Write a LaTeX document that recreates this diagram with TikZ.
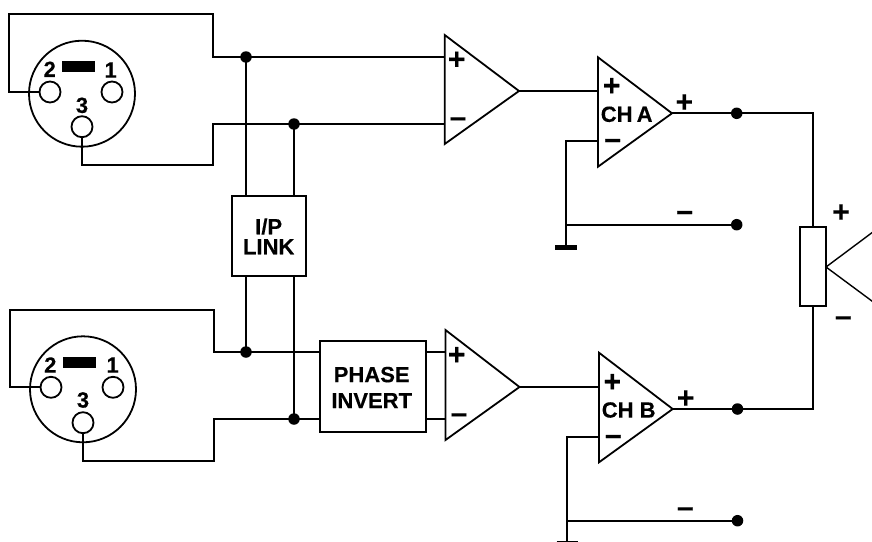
\documentclass[tikz,border=0pt]{standalone}
\usepackage{fontspec}
\setmainfont{Liberation Sans}[BoldFeatures={FakeBold=0.3}]
\tikzset{
  wire/.style={line width=1.8pt,line cap=butt,line join=miter},
  conn/.style={circle,draw,line width=1.8pt,minimum size=106pt,inner sep=0pt},
  pin/.style={circle,draw,fill=white,line width=1.8pt,minimum size=21pt,inner sep=0pt},
  dotj/.style={circle,fill=black,minimum size=11.5pt,inner sep=0pt},
  blockbox/.style={rectangle,draw,line width=1.8pt,inner sep=0pt},
  lab/.style={inner sep=0pt,font=\fontsize{22}{22}\selectfont\bfseries},
  plussign/.style={inner sep=0pt,yshift=-1.5pt,font=\fontsize{30}{30}\selectfont\bfseries},
  minussign/.style={inner sep=0pt,yshift=-3.5pt,font=\fontsize{30}{30}\selectfont\bfseries},
  amp/.style={line width=1.8pt,line join=miter},
}
\begin{document}
\begin{tikzpicture}[x=1pt,y=-1pt]
\useasboundingbox (0,0) rectangle (872,541);
\clip (0,0) rectangle (872,541);
% connectors
\node[conn] (c1) at (82,93.7) {};
\node[pin] (p12) at (50,92) {};
\node[pin] (p11) at (112,92) {};
\node[pin] (p13) at (82,126.7) {};
\node[fill=black,minimum width=32.7pt,minimum height=10.7pt,inner sep=0pt] (b1) at (78.7,66.3) {};
\node[lab] (n12) at (49.7,69.3) {2};
\node[lab] (n11) at (110.7,70) {1};
\node[lab] (n13) at (82,105.3) {3};
\node[conn] (c2) at (83,389.3) {};
\node[pin] (p22) at (51,387.3) {};
\node[pin] (p21) at (113,387.3) {};
\node[pin] (p23) at (83,422.7) {};
\node[fill=black,minimum width=32.7pt,minimum height=10.7pt,inner sep=0pt] (b2) at (79.5,362.5) {};
\node[lab] (n22) at (50.3,365) {2};
\node[lab] (n21) at (112.7,365) {1};
\node[lab] (n23) at (83,400) {3};
% blocks
\node[blockbox,minimum width=74pt,minimum height=80pt] (link) at (269,236) {};
\node[inner sep=0pt,align=center,font=\fontsize{22}{20}\selectfont\bfseries] (linkt) at (268.7,236.3) {I/P\\LINK};
\node[blockbox,minimum width=106pt,minimum height=91pt] (inv) at (373,386.5) {};
\node[inner sep=0pt,align=center,font=\fontsize{22}{26}\selectfont\bfseries] (invt) at (371.7,387.5) {PHASE\\INVERT};
\node[blockbox,minimum width=26pt,minimum height=79pt] (res) at (813,266.5) {};
% junctions and ends
\node[dotj] (d1) at (246,57) {};
\node[dotj] (d2) at (294,124) {};
\node[dotj] (d3) at (246,352) {};
\node[dotj] (d4) at (294,419) {};
\node[dotj] (d5) at (736.7,113.3) {};
\node[dotj] (d6) at (736.7,224.7) {};
\node[dotj] (d7) at (737.5,409) {};
\node[dotj] (d8) at (737.5,520.7) {};
% amplifiers
\coordinate (a1t) at (444.7,35); \coordinate (a1b) at (444.7,144); \coordinate (a1o) at (519,91);
\coordinate (a2t) at (445.5,330); \coordinate (a2b) at (445.5,440); \coordinate (a2o) at (519.5,387);
\coordinate (a3t) at (598,57.3); \coordinate (a3b) at (598,166.7); \coordinate (a3o) at (672,113.3);
\coordinate (a4t) at (599,352.7); \coordinate (a4b) at (599,462.3); \coordinate (a4o) at (672.7,409);
\draw[amp] (a1t) -- (a1o) -- (a1b) -- cycle;
\draw[amp] (a2t) -- (a2o) -- (a2b) -- cycle;
\draw[amp] (a3t) -- (a3o) -- (a3b) -- cycle;
\draw[amp] (a4t) -- (a4o) -- (a4b) -- cycle;
% top wiring
\draw[wire] (p12.west) -- (9,92) -- (9,14) -- (213,14) -- (213,57) -- (d1.center) -- (444.7,57);
\draw[wire] (p13.south) -- (82,165) -- (213,165) -- (213,124) -- (d2.center) -- (444.7,124);
\draw[wire] (d1.center) -- (d1.center |- link.north);
\draw[wire] (d2.center) -- (d2.center |- link.north);
% bottom wiring
\draw[wire] (p22.west) -- (10,387.3) -- (10,310) -- (214,310) -- (214,352) -- (d3.center) -- (320,352);
\draw[wire] (p23.south) -- (83,460.7) -- (214,460.7) -- (214,419) -- (d4.center) -- (320,419);
\draw[wire] (d3.center) -- (d3.center |- link.south);
\draw[wire] (d4.center) -- (d4.center |- link.south);
\draw[wire] (inv.east |- d3) -- (445.5,352);
\draw[wire] (inv.east |- d4) -- (445.5,419);
% amp to amp
\draw[wire] (a1o) -- (598,91);
\draw[wire] (a2o) -- (599,387);
% CH A output
\draw[wire] (a3o) -- (d5.center) -- (813,113.3) -- (res.north);
\coordinate (g1) at (566,141);
\coordinate (g1b) at (566,247.7);
\draw[wire] (598,141) -- (g1) -- (g1b);
\draw[wire] (566,224.7) -- (d6.center);
\draw[line width=5pt] (555,247.7) -- (577,247.7);
% CH B output
\draw[wire] (a4o) -- (d7.center) -- (813,409) -- (res.south);
\coordinate (g2) at (567,437);
\coordinate (g2b) at (567,543);
\draw[wire] (599,437) -- (g2) -- (g2b);
\draw[wire] (567,520.7) -- (d8.center);
\draw[line width=5pt] (556.5,543) -- (578,543);
% speaker
\coordinate (spk) at (826,267);
\draw[line width=1.4pt] (880,226.7) -- (spk) -- (880,307);
% signs
\node[plussign] (s1) at (456.7,59) {+};
\node[minussign] (s2) at (458,118.7) {–};
\node[plussign] (s3) at (456.7,354.3) {+};
\node[minussign] (s4) at (459,414.7) {–};
\node[plussign] (s5) at (611.7,85.3) {+};
\node[minussign] (s6) at (612.7,140.3) {–};
\node[plussign] (s7) at (684.3,101.7) {+};
\node[minussign] (s8) at (684.7,212.3) {–};
\node[plussign] (s9) at (841,211.7) {+};
\node[minussign] (s10) at (843.3,317.7) {–};
\node[plussign] (s11) at (612.3,381.3) {+};
\node[minussign] (s12) at (613.3,436.3) {–};
\node[plussign] (s13) at (685.7,397.7) {+};
\node[minussign] (s14) at (685.3,508.7) {–};
\node[lab] (cha) at (626.7,114.3) {CH\kern-2pt\ A};
\node[lab] (chb) at (628.7,410) {CH B};
\end{tikzpicture}
\end{document}
